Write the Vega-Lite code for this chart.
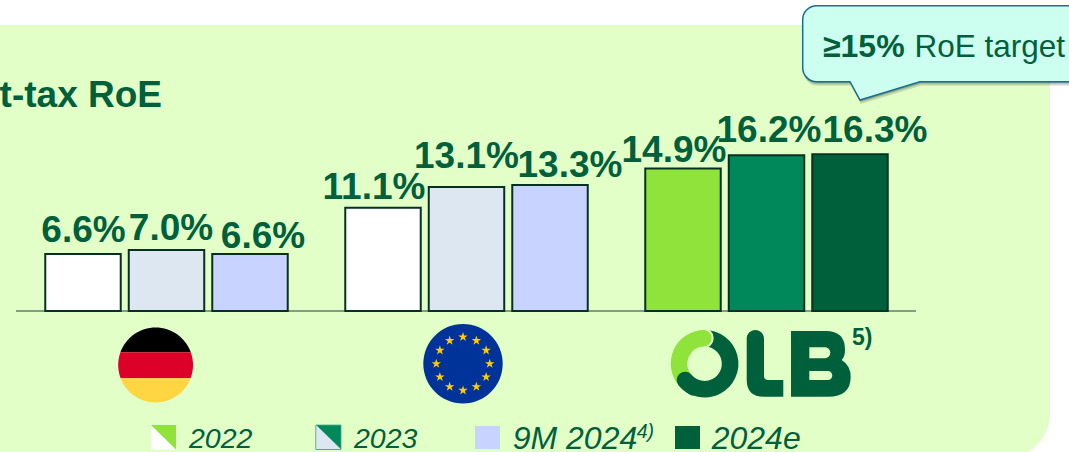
{"$schema":"https://vega.github.io/schema/vega-lite/v6.json","width":1069,"height":452,"autosize":"none","padding":0,"background":"white","config":{"view":{"stroke":null},"text":{"font":"Liberation Sans","baseline":"alphabetic"}},"resolve":{"scale":{"x":"independent","y":"independent"}},"layer":[{"encoding":{"x":{"field":"px","type":"quantitative","scale":{"domain":[0,1069],"nice":false,"zero":false},"axis":null},"y":{"field":"py","type":"quantitative","scale":{"domain":[452,0],"nice":false,"zero":false},"axis":null}},"layer":[{"data":{"values":[{"px":-60,"px2":1050,"py":25,"py2":459}]},"mark":{"type":"rect","fill":"#E2FFC7","cornerRadius":46},"encoding":{"x2":{"field":"px2"},"y2":{"field":"py2"}}},{"data":{"values":[{"px":803.7,"py":9.7},{"px":803.2,"py":8.2},{"px":803.7,"py":7.2}]},"mark":{"type":"point","filled":true,"size":4,"opacity":0.13,"fill":"#000","stroke":null,"shape":"M14 0 H290 V76 H117.3 L57.3 94.3 L47.3 76 H14 A14 14 0 0 1 0 62 V14 A14 14 0 0 1 14 0 Z"}},{"data":{"values":[{"px":802.7,"py":5.7}]},"mark":{"type":"point","filled":true,"size":4,"opacity":1,"fill":"#CCFFEF","stroke":"#1A6E8E","strokeWidth":1.5,"shape":"M14 0 H290 V76 H117.3 L57.3 94.3 L47.3 76 H14 A14 14 0 0 1 0 62 V14 A14 14 0 0 1 14 0 Z"}},{"data":{"values":[{"px":823,"py":56.7,"t":"≥15%"}]},"mark":{"type":"text","align":"left","fontSize":32,"fontWeight":"bold","fill":"#00603C"},"encoding":{"text":{"field":"t"}}},{"data":{"values":[{"px":914.5,"py":56.7,"t":"RoE target"}]},"mark":{"type":"text","align":"left","fontSize":31.5,"fill":"#00603C"},"encoding":{"text":{"field":"t"}}},{"data":{"values":[{"px":162,"py":106.5,"t":"t-tax RoE"}]},"mark":{"type":"text","align":"right","fontSize":37,"fontWeight":"bold","fill":"#00603C"},"encoding":{"text":{"field":"t"}}},{"data":{"values":[{"px":16,"px2":916,"py":311}]},"mark":{"type":"rule","stroke":"#5F7F6B","strokeWidth":1.5},"encoding":{"x2":{"field":"px2"}}},{"data":{"values":[{"px":155.6,"py":365}]},"mark":{"type":"point","filled":true,"size":4,"opacity":1,"fill":"#000000","stroke":null,"shape":"M-35.2 -12.7 A37.4 37.4 0 0 1 35.2 -12.7 Z"}},{"data":{"values":[{"px":155.6,"py":365}]},"mark":{"type":"point","filled":true,"size":4,"opacity":1,"fill":"#DD0029","stroke":null,"shape":"M-35.2 -12.7 L35.2 -12.7 A37.4 37.4 0 0 1 35 13.3 L-35 13.3 A37.4 37.4 0 0 1 -35.2 -12.7 Z"}},{"data":{"values":[{"px":155.6,"py":365}]},"mark":{"type":"point","filled":true,"size":4,"opacity":1,"fill":"#FFD641","stroke":null,"shape":"M-35 13.3 L35 13.3 A37.4 37.4 0 0 1 -35 13.3 Z"}},{"data":{"values":[{"px":463,"py":363.7}]},"mark":{"type":"point","filled":true,"size":4,"opacity":1,"fill":"#003399","stroke":null,"shape":"M-39.7 0 A39.7 39.7 0 0 1 39.7 0 A39.7 39.7 0 0 1 -39.7 0 Z"}},{"data":{"values":[{"px":463,"py":363.7}]},"mark":{"type":"point","filled":true,"size":4,"opacity":1,"fill":"#FFCC00","stroke":null,"shape":"M0 -31.7 l2.94 9.05 l-7.68 -5.58 l9.5 0 l-7.68 5.58 z M13.35 -28.12 l2.94 9.05 l-7.68 -5.58 l9.5 0 l-7.68 5.58 z M23.12 -18.35 l2.94 9.05 l-7.68 -5.58 l9.5 0 l-7.68 5.58 z M26.7 -5 l2.94 9.05 l-7.68 -5.58 l9.5 0 l-7.68 5.58 z M23.12 8.35 l2.94 9.05 l-7.68 -5.58 l9.5 0 l-7.68 5.58 z M13.35 18.12 l2.94 9.05 l-7.68 -5.58 l9.5 0 l-7.68 5.58 z M0 21.7 l2.94 9.05 l-7.68 -5.58 l9.5 0 l-7.68 5.58 z M-13.35 18.12 l2.94 9.05 l-7.68 -5.58 l9.5 0 l-7.68 5.58 z M-23.12 8.35 l2.94 9.05 l-7.68 -5.58 l9.5 0 l-7.68 5.58 z M-26.7 -5 l2.94 9.05 l-7.68 -5.58 l9.5 0 l-7.68 5.58 z M-23.12 -18.35 l2.94 9.05 l-7.68 -5.58 l9.5 0 l-7.68 5.58 z M-13.35 -28.12 l2.94 9.05 l-7.68 -5.58 l9.5 0 l-7.68 5.58 z"}},{"data":{"values":[{"px":703.8,"py":363.7}]},"mark":{"type":"point","filled":false,"size":4,"opacity":1,"fill":null,"stroke":"#00603C","strokeWidth":16.6,"strokeCap":"round","shape":"M0 -25.5 A25.5 25.5 0 1 1 -18.8 16.3"}},{"data":{"values":[{"px":703.8,"py":363.7}]},"mark":{"type":"point","filled":false,"size":4,"opacity":1,"fill":null,"stroke":"#E2FFC7","strokeWidth":20.6,"strokeCap":"round","shape":"M-12 -22.5 A25.5 25.5 0 0 1 -0.4 -25.5"}},{"data":{"values":[{"px":703.8,"py":363.7}]},"mark":{"type":"point","filled":false,"size":4,"opacity":1,"fill":null,"stroke":"#8FE33B","strokeWidth":16.6,"strokeCap":"round","shape":"M-18.8 16.3 A25.5 25.5 0 0 1 -0.4 -25.5"}},{"data":{"values":[{"px":703.8,"py":363.7}]},"mark":{"type":"point","filled":false,"size":4,"opacity":1,"fill":null,"stroke":"#00603C","strokeWidth":16.6,"strokeCap":"round","shape":"M-10 23.5 A25.5 25.5 0 0 1 -18.8 16.3"}},{"data":{"values":[{"px":703.8,"py":363.7}]},"mark":{"type":"point","filled":true,"size":4,"opacity":1,"fill":"#00603C","stroke":null,"shape":"M42.9 -25 A8.65 8.65 0 0 1 60.2 -25 L60.2 12 Q60.2 16.3 64.5 16.3 L79.5 16.3 L79.5 33 L60 33 Q42.9 33 42.9 16 Z M87.2 -32.7 L122 -32.7 Q141.2 -32.7 141.2 -14 Q141.2 -7 137.9 -3.7 Q146.9 2 146.9 13 Q146.9 33 124 33 L87.2 33 Z M105.5 -16.4 L105.5 -5.4 L121 -5.4 A5.5 5.5 0 0 0 121 -16.4 Z M105.5 7.3 L105.5 16.3 L124 16.3 A4.5 4.5 0 0 0 124 7.3 Z"}},{"data":{"values":[{"px":852,"py":345,"t":"5)"}]},"mark":{"type":"text","align":"left","fontSize":23,"fontWeight":"bold","fill":"#00603C"},"encoding":{"text":{"field":"t"}}},{"data":{"values":[{"px":151,"py":425}]},"mark":{"type":"point","filled":true,"size":4,"opacity":1,"fill":"#FFFFFF","stroke":null,"shape":"M0 0 L25 24.5 L0 24.5 Z"}},{"data":{"values":[{"px":151,"py":425}]},"mark":{"type":"point","filled":true,"size":4,"opacity":1,"fill":"#8FE33B","stroke":null,"shape":"M0 0 L25 0 L25 24.5 Z"}},{"data":{"values":[{"px":316,"py":425}]},"mark":{"type":"point","filled":true,"size":4,"opacity":1,"fill":"#DCE7F1","stroke":null,"shape":"M0 0 L25 24.5 L0 24.5 Z"}},{"data":{"values":[{"px":316,"py":425}]},"mark":{"type":"point","filled":true,"size":4,"opacity":1,"fill":"#00875A","stroke":"#3FAE8C","strokeWidth":0.8,"shape":"M0 0 L25 0 L25 24.5 L0 24.5 Z M0 0 L0 24.5 L25 24.5 Z"}},{"data":{"values":[{"px":316,"py":425}]},"mark":{"type":"point","filled":true,"size":4,"opacity":1,"fill":"#DCE7F1","stroke":null,"shape":"M0.4 0.4 L24.6 24.1 L0.4 24.1 Z"}},{"data":{"values":[{"px":475,"px2":500,"py":426,"py2":449}]},"mark":{"type":"rect","fill":"#C8D4FF"},"encoding":{"x2":{"field":"px2"},"y2":{"field":"py2"}}},{"data":{"values":[{"px":675,"px2":700,"py":426,"py2":449}]},"mark":{"type":"rect","fill":"#00603C"},"encoding":{"x2":{"field":"px2"},"y2":{"field":"py2"}}},{"data":{"values":[{"px":189,"py":447.5,"t":"2022"},{"px":354,"py":447.5,"t":"2023"}]},"mark":{"type":"text","align":"left","fontSize":28.5,"fontStyle":"italic","fill":"#00603C"},"encoding":{"text":{"field":"t"}}},{"data":{"values":[{"px":512.7,"py":449,"t":"9M 2024"},{"px":711.7,"py":449,"t":"2024e"}]},"mark":{"type":"text","align":"left","fontSize":32,"fontStyle":"italic","fill":"#00603C"},"encoding":{"text":{"field":"t"}}},{"data":{"values":[{"px":636.7,"py":438,"t":"4)"}]},"mark":{"type":"text","align":"left","fontSize":19.5,"fontStyle":"italic","fill":"#00603C"},"encoding":{"text":{"field":"t"}}}]},{"data":{"values":[{"region":"Germany","slot":"1","series":"Peers 2022","value":6.6,"label":"6.6%"},{"region":"Germany","slot":"2","series":"Peers 2023","value":7.0,"label":"7.0%"},{"region":"Germany","slot":"3","series":"Peers 9M 2024","value":6.6,"label":"6.6%"},{"region":"Eurozone","slot":"1","series":"Peers 2022","value":11.1,"label":"11.1%"},{"region":"Eurozone","slot":"2","series":"Peers 2023","value":13.1,"label":"13.1%"},{"region":"Eurozone","slot":"3","series":"Peers 9M 2024","value":13.3,"label":"13.3%"},{"region":"OLB","slot":"1","series":"OLB 2022","value":14.9,"label":"14.9%"},{"region":"OLB","slot":"2","series":"OLB 2023","value":16.2,"label":"16.2%"},{"region":"OLB","slot":"3","series":"OLB 2024e","value":16.3,"label":"16.3%"}]},"encoding":{"x":{"field":"region","type":"nominal","sort":null,"axis":null,"scale":{"type":"band","domain":["Germany","Eurozone","OLB"],"range":[16.5,916.5],"paddingInner":0,"paddingOuter":0}},"xOffset":{"field":"slot","type":"nominal","scale":{"type":"band","domain":["1","2","3"],"range":[24.75,275.25],"paddingInner":0.096,"paddingOuter":0.048}},"y":{"field":"value","type":"quantitative","axis":null,"scale":{"domain":[-12.62,31.27],"nice":false,"zero":false}}},"layer":[{"mark":{"type":"bar","stroke":"#06301F","strokeWidth":2,"opacity":1},"encoding":{"y2":{"datum":1.07},"fill":{"field":"series","type":"nominal","legend":null,"scale":{"domain":["Peers 2022","Peers 2023","Peers 9M 2024","OLB 2022","OLB 2023","OLB 2024e"],"range":["#FFFFFF","#DCE7F1","#C8D4FF","#8FE33B","#00875A","#00603C"]}}}},{"mark":{"type":"text","align":"center","fontSize":37,"fontWeight":"bold","fill":"#00603C","dx":{"expr":"{Germany1:0.5,Germany2:4.5,Germany3:13,Eurozone1:-9,Eurozone2:0,Eurozone3:20,OLB1:-9,OLB2:2.5,OLB3:25}[datum.region+datum.slot]"},"dy":{"expr":"{Germany1:-12,Germany2:-10,Germany3:-6,Eurozone1:-9,Eurozone2:-19,Eurozone3:-8,OLB1:-7,OLB2:-13,OLB3:-12}[datum.region+datum.slot]"}},"encoding":{"text":{"field":"label"}}}]}]}
